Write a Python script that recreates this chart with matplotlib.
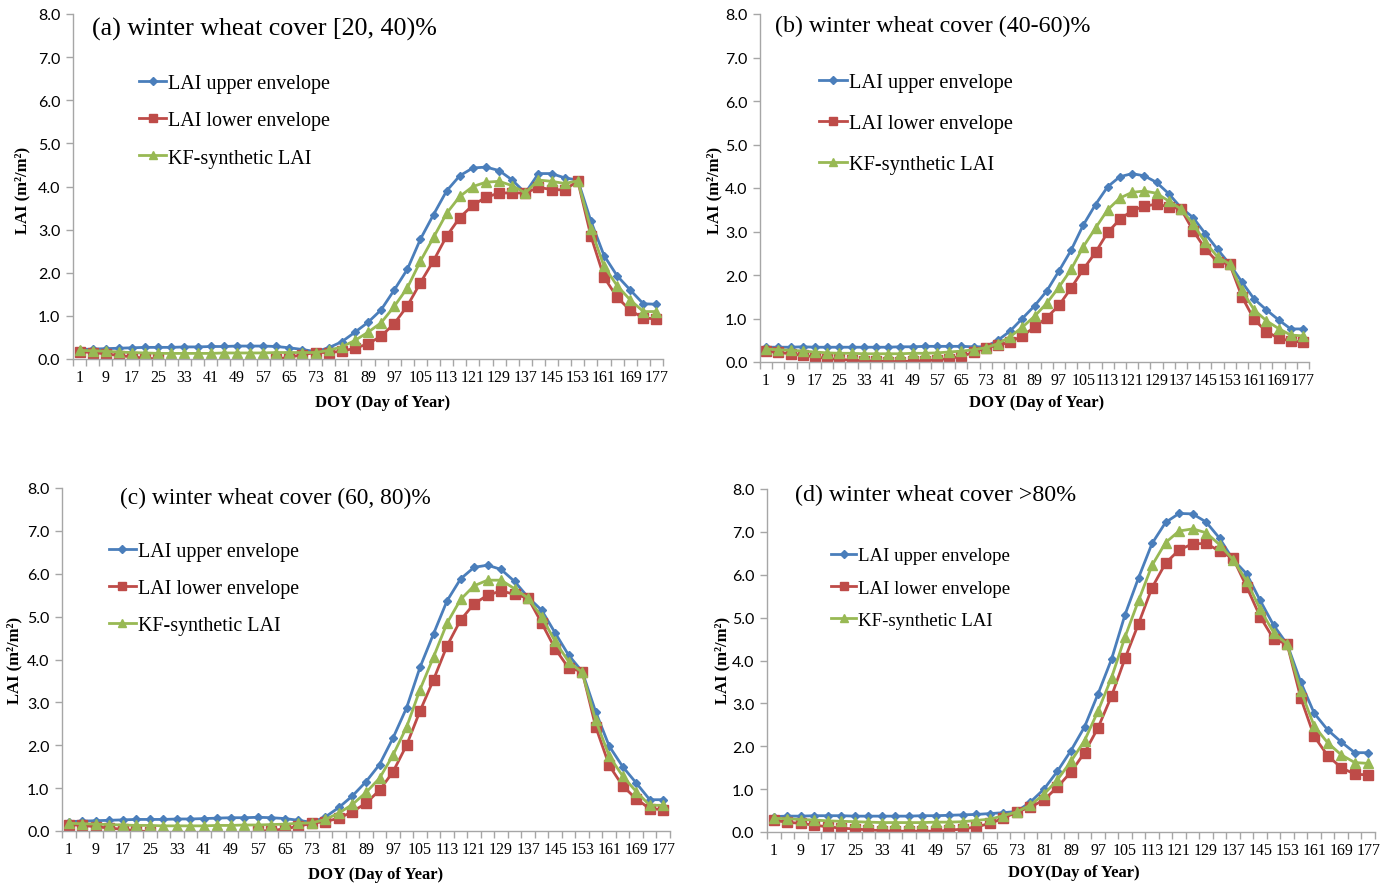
import matplotlib
matplotlib.use("Agg")
import matplotlib.pyplot as plt
import numpy as np

# ---------------- data ----------------
doy = list(range(1, 178, 4))  # 45 composites
doy_labels = [str(d) for d in doy]

upper_a = [0.22,0.23,0.24,0.25,0.26,0.27,0.27,0.27,0.28,0.28,0.29,0.29,0.30,0.30,0.30,0.29,0.26,0.22,0.17,
           0.26,0.40,0.62,0.85,1.14,1.60,2.08,2.78,3.35,3.90,4.25,4.43,4.45,4.37,4.15,3.85,4.30,4.30,4.20,4.15,3.20,2.40,1.93,1.60,1.28,1.27]
lower_a = [0.17,0.15,0.12,0.08,0.05,0.02,0.00,
           -0.15,-0.15,-0.15,-0.15,-0.15,-0.15,-0.15,-0.15,
           0.00,0.04,0.10,0.15,
           0.15,0.18,0.25,0.35,0.53,0.82,1.23,1.77,2.28,2.85,3.28,3.57,3.75,3.85,3.85,3.85,3.98,3.93,3.92,4.13,2.85,1.90,1.43,1.13,0.95,0.93]
kf_a = [0.20,0.19,0.18,0.16,0.15,0.14,0.13,0.13,0.13,0.13,0.13,0.14,0.14,0.14,0.14,0.15,0.15,0.15,0.15,
        0.20,0.28,0.43,0.62,0.84,1.22,1.65,2.27,2.82,3.38,3.77,4.00,4.10,4.12,4.02,3.85,4.15,4.12,4.07,4.13,3.02,2.15,1.70,1.37,1.10,1.10]

upper_b = [0.34,0.34,0.34,0.35,0.34,0.34,0.34,0.34,0.34,0.34,0.34,0.35,0.35,0.36,0.36,0.36,0.36,0.35,0.35,
           0.50,0.71,1.00,1.29,1.63,2.09,2.57,3.15,3.62,4.03,4.26,4.33,4.28,4.13,3.87,3.55,3.32,2.95,2.59,2.25,1.84,1.45,1.20,0.97,0.76,0.76]
lower_b = [0.25,0.22,0.19,0.15,0.12,0.08,0.06,0.04,0.03,0.02,0.01,0.01,0.02,0.03,0.05,0.08,0.13,0.22,0.33,
           0.38,0.46,0.60,0.80,1.02,1.30,1.70,2.13,2.52,2.98,3.28,3.48,3.58,3.63,3.57,3.52,3.02,2.60,2.30,2.25,1.50,0.98,0.70,0.55,0.48,0.46]
kf_b = [0.30,0.28,0.27,0.25,0.23,0.21,0.20,0.20,0.19,0.19,0.19,0.19,0.20,0.20,0.21,0.23,0.25,0.28,0.33,
        0.42,0.58,0.80,1.05,1.35,1.72,2.13,2.65,3.08,3.50,3.77,3.90,3.93,3.88,3.70,3.52,3.17,2.75,2.42,2.25,1.65,1.20,0.95,0.77,0.62,0.60]

upper_c = [0.22,0.23,0.24,0.25,0.26,0.27,0.27,0.27,0.28,0.28,0.29,0.30,0.31,0.31,0.32,0.31,0.29,0.25,0.20,
           0.33,0.55,0.82,1.15,1.55,2.17,2.87,3.82,4.60,5.37,5.88,6.15,6.20,6.10,5.82,5.45,5.15,4.62,4.10,3.72,2.78,1.98,1.50,1.12,0.73,0.73]
lower_c = [0.15,0.13,0.10,0.07,0.04,0.01,-0.02,
           -0.15,-0.15,-0.15,-0.15,-0.15,-0.15,-0.15,
           0.00,0.01,0.05,0.11,0.18,
           0.22,0.30,0.45,0.65,0.95,1.38,2.00,2.80,3.53,4.32,4.92,5.30,5.50,5.60,5.52,5.43,4.85,4.25,3.80,3.72,2.43,1.53,1.05,0.75,0.52,0.50]
kf_c = [0.18,0.17,0.16,0.15,0.14,0.13,0.13,0.12,0.12,0.12,0.12,0.13,0.13,0.14,0.14,0.15,0.16,0.18,0.19,
        0.27,0.42,0.62,0.90,1.23,1.77,2.42,3.30,4.06,4.85,5.40,5.72,5.85,5.85,5.65,5.43,5.00,4.42,3.95,3.70,2.58,1.75,1.28,0.92,0.60,0.60]

upper_d = [0.36,0.37,0.37,0.38,0.38,0.38,0.37,0.37,0.37,0.37,0.37,0.38,0.38,0.39,0.40,0.41,0.43,0.45,0.48,
           0.70,1.00,1.42,1.90,2.45,3.22,4.03,5.07,5.93,6.73,7.22,7.43,7.42,7.23,6.85,6.35,6.02,5.40,4.82,4.38,3.50,2.77,2.38,2.10,1.85,1.85]
lower_d = [0.27,0.23,0.20,0.16,0.12,0.09,0.07,0.05,0.03,0.02,0.02,0.02,0.02,0.04,0.07,0.12,0.20,0.32,0.47,
           0.58,0.75,1.05,1.40,1.85,2.43,3.17,4.05,4.86,5.70,6.27,6.58,6.72,6.73,6.55,6.38,5.72,5.02,4.50,4.38,3.13,2.23,1.78,1.50,1.35,1.33]
kf_d = [0.32,0.31,0.29,0.28,0.26,0.25,0.24,0.23,0.22,0.22,0.22,0.22,0.23,0.23,0.24,0.27,0.30,0.38,0.47,
        0.63,0.88,1.22,1.65,2.13,2.82,3.60,4.55,5.40,6.22,6.75,7.02,7.07,6.98,6.70,6.35,5.85,5.20,4.65,4.38,3.30,2.47,2.08,1.80,1.62,1.60]

titles = ["(a) winter wheat cover [20, 40)%", "(b) winter wheat cover (40-60)%",
          "(c) winter wheat cover (60, 80)%", "(d) winter wheat cover >80%"]
xlabels = ["DOY (Day of Year)", "DOY (Day of Year)", "DOY (Day of Year)", "DOY(Day of Year)"]
series_names = ["LAI upper envelope", "LAI lower envelope", "KF-synthetic LAI"]
ylabel = "LAI (m²/m²)"

# ---------------- layout ----------------
W, H = 1394, 887
fig = plt.figure(figsize=(W / 100, H / 100), dpi=100)

def fx(x): return x / W
def fy(y): return 1 - y / H

# panel boxes in pixels: left, top, right, bottom
boxes = [(73, 15, 663, 360), (760, 15, 1309, 363), (62, 489, 670, 832), (767, 490, 1375, 833)]
title_pos = [(92, 29), (775, 26), (120, 498), (795, 495)]
title_size = [18.7, 17.3, 16.8, 17.3]
legend_pos = [(139, 75), (819, 74), (109, 543), (831, 548)]
legend_size = [14.5, 14.7, 14.4, 13.6]
legend_spacing = [0.9, 1.05, 0.9, 0.8]
ylabel_pos = [(22, 190), (714, 190), (14, 660), (722, 660)]
xlabel_pos = [(383, 403), (1037, 403), (376, 875), (1074, 873)]

colors = ["#4a7ebb", "#be4b48", "#98b954"]
markers = ["D", "s", "^"]
msizes = [4.5, 6.5, 7]
axis_col = "#a6a6a6"
serif = "Liberation Serif"
sans = "Lato"

panels = [(upper_a, lower_a, kf_a), (upper_b, lower_b, kf_b),
          (upper_c, lower_c, kf_c), (upper_d, lower_d, kf_d)]

x = np.arange(len(doy))
for i, (l, t, r, b) in enumerate(boxes):
    ax = fig.add_axes([fx(l), fy(b), fx(r) - fx(l), fy(t) - fy(b)])
    handles = []
    for s, (vals, c, m, ms) in enumerate(zip(panels[i], colors, markers, msizes)):
        h, = ax.plot(x, vals, color=c, lw=2, marker=m, markersize=ms,
                     markerfacecolor=c, markeredgecolor=c, label=series_names[s])
        handles.append(h)
    ax.set_xlim(-0.5, len(doy) - 0.5)
    ax.set_ylim(0, 8)
    ax.set_yticks(np.arange(0, 9, 1))
    ax.set_yticklabels([f"{v:.1f}" for v in np.arange(0, 9, 1)], fontsize=11.5, family=sans)
    ax.set_xticks(x[::2])
    ax.set_xticklabels(doy_labels[::2], fontsize=11.5, family=serif)
    ax.set_xticks(np.arange(-0.5, len(doy), 1), minor=True)
    ax.tick_params(axis="x", which="major", length=0, pad=7)
    ax.tick_params(axis="x", which="minor", length=5, color=axis_col, width=1)
    ax.tick_params(axis="y", length=5, color=axis_col, width=1, pad=4)
    for sp in ["top", "right"]:
        ax.spines[sp].set_visible(False)
    for sp in ["left", "bottom"]:
        ax.spines[sp].set_color(axis_col)
        ax.spines[sp].set_linewidth(1)
    fig.text(fx(title_pos[i][0]), fy(title_pos[i][1]), titles[i], family=serif,
             fontsize=title_size[i], ha="left", va="center")
    fig.text(fx(xlabel_pos[i][0]), fy(xlabel_pos[i][1]), xlabels[i], family=serif,
             fontsize=12, fontweight="bold", ha="center", va="center")
    fig.text(fx(ylabel_pos[i][0]), fy(ylabel_pos[i][1]), ylabel, family=serif,
             fontsize=12, fontweight="bold", ha="center", va="center", rotation=90)
    ax.legend(handles=handles, loc="upper left",
              bbox_to_anchor=(fx(legend_pos[i][0]), fy(legend_pos[i][1])),
              bbox_transform=fig.transFigure, frameon=False,
              prop={"family": serif, "size": legend_size[i]}, handlelength=1.35,
              handletextpad=0.1, labelspacing=legend_spacing[i],
              borderpad=0, borderaxespad=0, markerscale=0.8)

fig.savefig("out.png", dpi=100)
